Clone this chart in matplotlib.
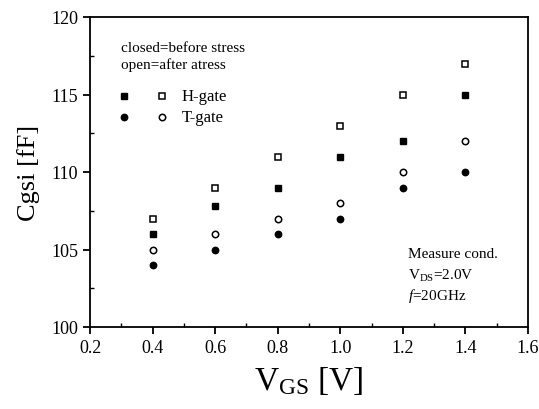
import matplotlib.pyplot as plt
import matplotlib.ticker as plticker

vgs = [0.4, 0.6, 0.8, 1.0, 1.2, 1.4]
h_before = [106, 107.8, 109, 111, 112, 115]
h_after = [107, 109, 111, 113, 115, 117]
t_before = [104, 105, 106, 107, 109, 110]
t_after = [105, 106, 107, 108, 110, 112]

plt.rcParams['font.family'] = ['Liberation Serif', 'DejaVu Serif']
plt.rcParams['mathtext.fontset'] = 'custom'
plt.rcParams['mathtext.rm'] = 'Liberation Serif'
plt.rcParams['mathtext.it'] = 'Liberation Serif:italic'

fig = plt.figure(figsize=(5.39, 4.10), dpi=100)
ax = fig.add_axes([90 / 539, 1 - 328 / 410, 438 / 539, 310 / 410])

ms = 4.6
ax.plot(vgs, h_before, 's', color='black', ms=ms, ls='none')
ax.plot(vgs, h_after, 's', mfc='white', mec='black', mew=1.1, ms=ms, ls='none')
ax.plot(vgs, t_before, 'o', color='black', ms=ms, ls='none')
ax.plot(vgs, t_after, 'o', mfc='white', mec='black', mew=1.1, ms=ms, ls='none')

ax.set_xlim(0.2, 1.6)
ax.set_ylim(100, 120)
ax.xaxis.set_major_locator(plticker.MultipleLocator(0.2))
ax.xaxis.set_minor_locator(plticker.MultipleLocator(0.1))
ax.yaxis.set_major_locator(plticker.MultipleLocator(5))
ax.yaxis.set_minor_locator(plticker.MultipleLocator(2.5))
ax.xaxis.set_major_formatter(plticker.FormatStrFormatter('%.1f'))
ax.tick_params(which='major', direction='out', length=5, width=1.3, labelsize=13)
ax.tick_params(which='minor', direction='in', length=3, width=1.0)
for s in ax.spines.values():
    s.set_linewidth(1.3)

ax.set_xlabel(r'V$_{\mathregular{GS}}$ [V]', fontsize=24, labelpad=6)
ax.set_ylabel('Cgsi [fF]', fontsize=19, labelpad=8)

# legend drawn by hand, in axes coordinates
ax.text(0.07, 0.89, 'closed=before stress', transform=ax.transAxes, fontsize=11)
ax.text(0.07, 0.835, 'open=after atress', transform=ax.transAxes, fontsize=11)
ax.plot([0.078], [0.745], 's', color='black', ms=ms, transform=ax.transAxes)
ax.plot([0.165], [0.745], 's', mfc='white', mec='black', mew=1.1, ms=ms, transform=ax.transAxes)
ax.text(0.21, 0.745, 'H-gate', transform=ax.transAxes, fontsize=12, va='center')
ax.plot([0.078], [0.677], 'o', color='black', ms=ms, transform=ax.transAxes)
ax.plot([0.165], [0.677], 'o', mfc='white', mec='black', mew=1.1, ms=ms, transform=ax.transAxes)
ax.text(0.21, 0.677, 'T-gate', transform=ax.transAxes, fontsize=12, va='center')

ax.text(0.725, 0.225, 'Measure cond.', transform=ax.transAxes, fontsize=11)
ax.text(0.725, 0.155, r'V$_{\mathregular{DS}}$=2.0V', transform=ax.transAxes, fontsize=11)
ax.text(0.725, 0.09, r'$f$=20GHz', transform=ax.transAxes, fontsize=11)

plt.savefig('out.png', dpi=100)
